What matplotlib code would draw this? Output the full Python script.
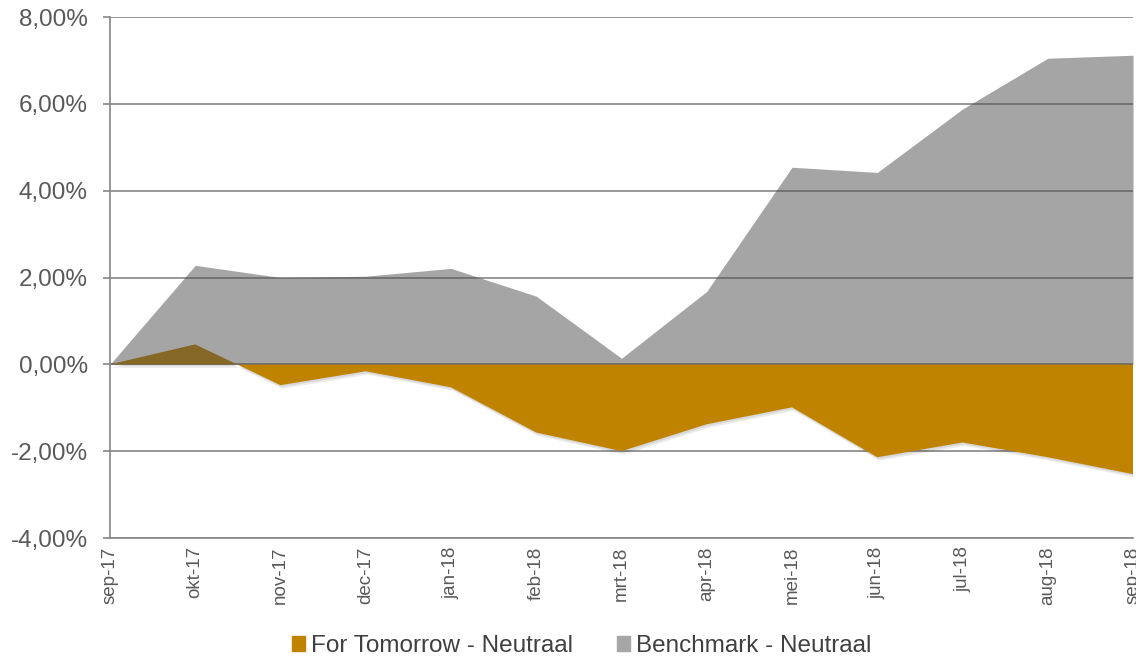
import matplotlib
matplotlib.use("Agg")
import matplotlib.pyplot as plt
import matplotlib.patheffects as pe
from matplotlib.patches import Patch
from matplotlib.ticker import FuncFormatter

plt.rcParams['font.family'] = ['Liberation Sans', 'DejaVu Sans']

# maanden en rendementen (%)
maanden = ['sep-17', 'okt-17', 'nov-17', 'dec-17', 'jan-18', 'feb-18', 'mrt-18',
           'apr-18', 'mei-18', 'jun-18', 'jul-18', 'aug-18', 'sep-18']
for_tomorrow = [0.0, 0.46, -0.48, -0.16, -0.53, -1.57, -2.0,
                -1.38, -0.99, -2.14, -1.80, -2.14, -2.53]
benchmark = [0.0, 2.28, 2.0, 2.03, 2.21, 1.57, 0.14,
             1.68, 4.54, 4.42, 5.88, 7.05, 7.12]

goud = '#BF8300'
grijs = '#A6A6A6'
tekst = '#595959'
lijn = '#868686'

fig = plt.figure(figsize=(11.36, 6.59), dpi=100)
ax = fig.add_axes([0.0968, 0.1836, 0.9006, 0.7906])

x = list(range(len(maanden)))

# goud eerst, met zachte schaduw
ft = ax.fill_between(x, 0, for_tomorrow, color=goud, linewidth=0, zorder=2)
ft.set_path_effects([pe.SimplePatchShadow(offset=(1.5, -2.5), shadow_rgbFace='black', alpha=0.08),
                     pe.SimplePatchShadow(offset=(0.8, -1.3), shadow_rgbFace='black', alpha=0.08),
                     pe.Normal()])
# benchmark half-transparant erover
ax.fill_between(x, 0, benchmark, color='#4D4D4D', alpha=0.5, linewidth=0, zorder=3)

ax.set_xlim(0, 12)
ax.set_ylim(-4, 8)
ax.set_yticks([-4, -2, 0, 2, 4, 6, 8])
ax.yaxis.set_major_formatter(FuncFormatter(lambda v, p: f"{v:.2f}%".replace('.', ',')))
ax.set_xticks(x)
ax.set_xticklabels(maanden, rotation=90, fontsize=13.5, color=tekst)
ax.tick_params(axis='y', labelsize=17.5, labelcolor=tekst, color=lijn, length=5, width=1.2, pad=11)
ax.tick_params(axis='x', length=0, pad=6)

ax.grid(axis='y', color=lijn, linewidth=1.2, zorder=0)
ax.set_axisbelow(True)
for s in ['top', 'right']:
    ax.spines[s].set_visible(False)
ax.spines['left'].set_color(lijn)
ax.spines['left'].set_linewidth(1.2)
ax.spines['bottom'].set_color(lijn)
ax.spines['bottom'].set_linewidth(1.2)

handles = [Patch(color=goud, label='For Tomorrow - Neutraal'),
           Patch(color=grijs, label='Benchmark - Neutraal')]
leg = fig.legend(handles=handles, loc='center', bbox_to_anchor=(0.512, 0.02), ncol=2,
                 frameon=False, fontsize=17.5, handlelength=0.55, handleheight=0.55,
                 handletextpad=0.25, columnspacing=1.8)
for t in leg.get_texts():
    t.set_color('#404040')

fig.savefig('out.png', dpi=100)
